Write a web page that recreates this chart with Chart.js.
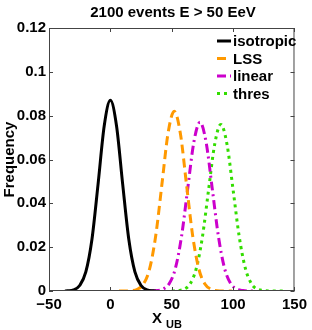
<!DOCTYPE html>
<html><head><meta charset="utf-8">
<script src="https://cdn.jsdelivr.net/npm/chart.js@4"></script>
<style>html,body{margin:0;padding:0;background:#fff}#w{width:312px;height:330px}</style>
</head><body><div id="w"><canvas id="c" width="312" height="330"></canvas></div>
<script>
const titleText = "2100 events E > 50 EeV";
const seriesNames = ["isotropic", "LSS", "linear", "thres"];
const xTicks = [-50, 0, 50, 100, 150];
const yTicks = [0, 0.02, 0.04, 0.06, 0.08, 0.1, 0.12];

const isoX = [-37, -35, -30, -25, -20, -15, -10, -5, 0, 5, 10, 15, 20, 25, 30, 35, 37];
const isoY = [0, 0.0001, 0.0005, 0.0025, 0.0087, 0.0236, 0.0489, 0.0754, 0.087, 0.0754, 0.0489, 0.0236, 0.0087, 0.0025, 0.0005, 0.0001, 0];

const lssX = [7, 12, 17, 22, 27, 32, 37, 42, 47, 52, 57, 62, 67, 72, 77, 82, 87, 92, 99];
const lssY = [0, 0, 0.0001, 0.0008, 0.0032, 0.0102, 0.0254, 0.0487, 0.072, 0.082, 0.072, 0.0487, 0.0254, 0.0102, 0.0032, 0.0008, 0.0001, 0, 0];

const linX = [33, 38, 43, 48, 53, 58, 63, 68, 73, 78, 83, 88, 93, 98, 103, 108, 113, 118];
const linY = [0, 0.0002, 0.0009, 0.0034, 0.0104, 0.025, 0.0467, 0.0679, 0.077, 0.0679, 0.0467, 0.025, 0.0104, 0.0034, 0.0009, 0.0002, 0, 0];

const thrX = [50, 55, 60, 65, 70, 75, 80, 85, 90, 95, 100, 105, 110, 115, 120, 125, 130, 135, 141];
const thrY = [0, 0.0002, 0.0008, 0.0033, 0.0103, 0.0247, 0.0461, 0.067, 0.076, 0.067, 0.0461, 0.0247, 0.0103, 0.0033, 0.0008, 0.0002, 0, 0, 0];

const colors = ["#000000", "#ff9900", "#cc00cc", "#33dd00"];
const dashes = [[], [9, 5], [9, 4, 2, 4], [3, 4]];

function pts(xs, ys) { return xs.map((x, i) => ({ x: x, y: ys[i] })); }
const allData = [pts(isoX, isoY), pts(lssX, lssY), pts(linX, linY), pts(thrX, thrY)];

const FONT = "'Liberation Sans', Arial, Helvetica, sans-serif";

const deco = {
  id: 'deco',
  afterDraw(chart) {
    const ctx = chart.ctx, a = chart.chartArea;
    const xs = chart.scales.x, ys = chart.scales.y;
    ctx.save();
    // box
    ctx.strokeStyle = '#444';
    ctx.lineWidth = 1;
    ctx.setLineDash([]);
    ctx.strokeRect(a.left + 0.5, a.top + 0.5, a.right - a.left - 1, a.bottom - a.top - 1);
    // inward ticks
    const tl = 4;
    ctx.beginPath();
    xTicks.forEach(v => {
      const p = Math.round(xs.getPixelForValue(v)) + 0.5;
      ctx.moveTo(p, a.bottom); ctx.lineTo(p, a.bottom - tl);
      ctx.moveTo(p, a.top); ctx.lineTo(p, a.top + tl);
    });
    yTicks.forEach(v => {
      const p = Math.round(ys.getPixelForValue(v)) + 0.5;
      ctx.moveTo(a.left, p); ctx.lineTo(a.left + tl, p);
      ctx.moveTo(a.right, p); ctx.lineTo(a.right - tl, p);
    });
    ctx.stroke();
    // title
    ctx.fillStyle = '#000';
    ctx.font = "bold 15px " + FONT;
    ctx.textAlign = 'center';
    ctx.textBaseline = 'alphabetic';
    ctx.fillText(titleText, 173, 17);
    // y title
    ctx.save();
    ctx.translate(14, (a.top + a.bottom) / 2);
    ctx.rotate(-Math.PI / 2);
    ctx.textAlign = 'center';
    ctx.fillText("Frequency", 0, 0);
    ctx.restore();
    // x title with subscript
    ctx.textAlign = 'left';
    ctx.font = "bold 15px " + FONT;
    ctx.fillText("X", 152, 323);
    ctx.font = "bold 11px " + FONT;
    ctx.fillText("UB", 166, 328);
    // legend
    ctx.font = "bold 15px " + FONT;
    ctx.textBaseline = 'middle';
    seriesNames.forEach((n, i) => {
      const yy = 41 + i * 17.5;
      ctx.beginPath();
      ctx.strokeStyle = colors[i];
      ctx.lineWidth = 3;
      ctx.setLineDash(dashes[i]);
      ctx.moveTo(217, yy); ctx.lineTo(231, yy);
      ctx.stroke();
      ctx.setLineDash([]);
      ctx.fillStyle = '#000';
      ctx.fillText(n, 233, yy + 1);
    });
    ctx.restore();
  }
};

new Chart(document.getElementById('c'), {
  type: 'line',
  data: {
    datasets: allData.map((d, i) => ({
      label: seriesNames[i],
      data: d,
      borderColor: colors[i],
      backgroundColor: colors[i],
      borderWidth: 3,
      borderDash: dashes[i],
      pointRadius: 0,
      cubicInterpolationMode: 'monotone',
      fill: false
    }))
  },
  options: {
    responsive: false,
    animation: false,
    layout: { padding: { top: 28, right: 15, bottom: 0, left: 0 } },
    plugins: { legend: { display: false }, title: { display: false }, tooltip: { enabled: false } },
    scales: {
      x: {
        type: 'linear', min: -50, max: 150,
        afterBuildTicks: s => { s.ticks = xTicks.map(v => ({ value: v })); },
        afterFit: s => { s.height = 39; },
        grid: { display: false, drawTicks: false },
        border: { display: false },
        ticks: {
          color: '#000', padding: 5, maxRotation: 0,
          font: { family: FONT, size: 15, weight: 'bold' },
          callback: v => (v < 0 ? '\u2212' + Math.abs(v) : String(v))
        }
      },
      y: {
        type: 'linear', min: 0, max: 0.12,
        afterBuildTicks: s => { s.ticks = yTicks.map(v => ({ value: v })); },
        afterFit: s => { s.width = 49; },
        grid: { display: false, drawTicks: false },
        border: { display: false },
        ticks: {
          color: '#000', padding: 3,
          font: { family: FONT, size: 15, weight: 'bold' },
          callback: v => String(+(+v).toFixed(2))
        }
      }
    }
  },
  plugins: [deco]
});
</script>
</body></html>
